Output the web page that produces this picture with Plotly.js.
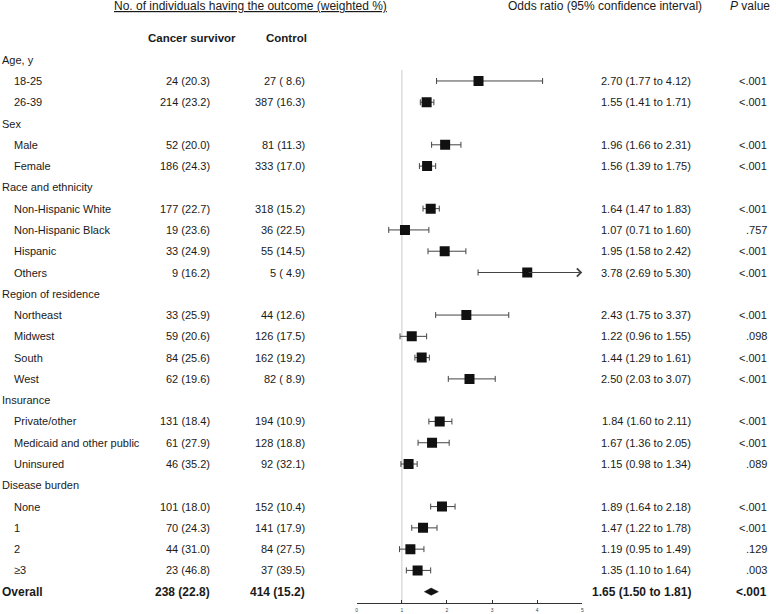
<!DOCTYPE html>
<html>
<head>
<meta charset="utf-8">
<script src="https://cdn.plot.ly/plotly-3.0.1.min.js"></script>
<style>
  html, body { margin: 0; padding: 0; background: #fff; }
  #chart { width: 776px; height: 614px; }
</style>
</head>
<body>
<div id="chart"></div>
<script>
// rows, top to bottom; null = group heading row
var labels = ['Age, y', '18-25', '26-39', 'Sex', 'Male', 'Female',
	'Race and ethnicity', 'Non-Hispanic White', 'Non-Hispanic Black', 'Hispanic', 'Others',
	'Region of residence', 'Northeast', 'Midwest', 'South', 'West',
	'Insurance', 'Private/other', 'Medicaid and other public', 'Uninsured',
	'Disease burden', 'None', '1', '2', '\u22653', 'Overall'];

var survivor = [null, '24 (20.3)', '214 (23.2)', null, '52 (20.0)', '186 (24.3)',
	null, '177 (22.7)', '19 (23.6)', '33 (24.9)', '9 (16.2)',
	null, '33 (25.9)', '59 (20.6)', '84 (25.6)', '62 (19.6)',
	null, '131 (18.4)', '61 (27.9)', '46 (35.2)',
	null, '101 (18.0)', '70 (24.3)', '44 (31.0)', '23 (46.8)', '238 (22.8)'];

var control = [null, '27 ( 8.6)', '387 (16.3)', null, '81 (11.3)', '333 (17.0)',
	null, '318 (15.2)', '36 (22.5)', '55 (14.5)', '5 ( 4.9)',
	null, '44 (12.6)', '126 (17.5)', '162 (19.2)', '82 ( 8.9)',
	null, '194 (10.9)', '128 (18.8)', '92 (32.1)',
	null, '152 (10.4)', '141 (17.9)', '84 (27.5)', '37 (39.5)', '414 (15.2)'];

var orVal = [null, 2.70, 1.55, null, 1.96, 1.56,
	null, 1.64, 1.07, 1.95, 3.78,
	null, 2.43, 1.22, 1.44, 2.50,
	null, 1.84, 1.67, 1.15,
	null, 1.89, 1.47, 1.19, 1.35, 1.65];

var ciLo = [null, 1.77, 1.41, null, 1.66, 1.39,
	null, 1.47, 0.71, 1.58, 2.69,
	null, 1.75, 0.96, 1.29, 2.03,
	null, 1.60, 1.36, 0.98,
	null, 1.64, 1.22, 0.95, 1.10, 1.50];

var ciHi = [null, 4.12, 1.71, null, 2.31, 1.75,
	null, 1.83, 1.60, 2.42, 5.30,
	null, 3.37, 1.55, 1.61, 3.07,
	null, 2.11, 2.05, 1.34,
	null, 2.18, 1.78, 1.49, 1.64, 1.81];

var pVal = [null, '<.001', '<.001', null, '<.001', '<.001',
	null, '<.001', '.757', '<.001', '<.001',
	null, '<.001', '.098', '<.001', '<.001',
	null, '<.001', '<.001', '.089',
	null, '<.001', '<.001', '.129', '.003', '<.001'];

var xTicks = [0, 1, 2, 3, 4, 5];

var W = 776, H = 614;
var xMax = xTicks[xTicks.length - 1];
var FONT = 'Liberation Sans, Arial, sans-serif';
var INK = '#1a1a1a';
var overallIdx = labels.length - 1;

function esc(s) { return s.replace(/</g, '&lt;'); }
function px(v) { return v / W; }

// squares with whiskers
var ptX = [], ptY = [], errP = [], errM = [];
var annotations = [];
for (var i = 0; i < labels.length; i++) {
	if (orVal[i] === null || i === overallIdx) continue;
	ptX.push(orVal[i]);
	ptY.push(i);
	errM.push(orVal[i] - ciLo[i]);
	if (ciHi[i] > xMax) {
		// CI runs off the axis: arrow up to the axis end
		errP.push(0);
		annotations.push({x: xMax, y: i, ax: orVal[i], ay: i, xref: 'x', yref: 'y', axref: 'x', ayref: 'y',
			text: '', showarrow: true, arrowhead: 4, arrowsize: 1.6, arrowwidth: 1, arrowcolor: '#444', standoff: 0});
	} else {
		errP.push(ciHi[i] - orVal[i]);
	}
}

var squares = {
	x: ptX, y: ptY, type: 'scatter', mode: 'markers',
	marker: {symbol: 'square', size: 10, color: '#111'},
	error_x: {type: 'data', symmetric: false, array: errP, arrayminus: errM,
		color: '#444', thickness: 1, width: 3},
	hoverinfo: 'skip', showlegend: false
};

// overall diamond
var dh = 0.17;
var diamond = {
	x: [ciLo[overallIdx], orVal[overallIdx], ciHi[overallIdx], orVal[overallIdx], ciLo[overallIdx]],
	y: [overallIdx, overallIdx - dh, overallIdx, overallIdx + dh, overallIdx],
	type: 'scatter', mode: 'lines', fill: 'toself', fillcolor: '#111',
	line: {width: 0.5, color: '#111'}, hoverinfo: 'skip', showlegend: false
};

function txt(x, y, s, anchor, size, bold) {
	annotations.push({x: px(x), y: y, xref: 'paper', yref: 'y', text: bold ? '<b>' + s + '</b>' : s,
		showarrow: false, xanchor: anchor, yanchor: 'middle',
		font: {family: FONT, size: size, color: INK}});
}

// header
txt(250, -2.5, '<u>No. of individuals having the outcome (weighted %)</u>', 'center', 12, false);
txt(704, -2.5, 'Odds ratio (95% confidence interval)', 'right', 12, false);
txt(772, -2.5, '<i>P</i> value', 'right', 12, false);
txt(191.5, -1, 'Cancer survivor', 'center', 11.5, true);
txt(286.5, -1, 'Control', 'center', 11.5, true);

// table rows
for (var i = 0; i < labels.length; i++) {
	var isOverall = i === overallIdx;
	var fs = isOverall ? 12 : 11;
	if (orVal[i] === null) {
		txt(0, i, labels[i], 'left', 11, false);
		continue;
	}
	txt(isOverall ? 0 : 12, i, labels[i], 'left', fs, isOverall);
	txt(212, i, survivor[i], 'right', fs, isOverall);
	txt(307, i, control[i], 'right', fs, isOverall);
	txt(693, i, orVal[i].toFixed(2) + ' (' + ciLo[i].toFixed(2) + ' to ' + ciHi[i].toFixed(2) + ')', 'right', fs, isOverall);
	txt(769, i, esc(pVal[i]), 'right', fs, isOverall);
}

var layout = {
	width: W, height: H,
	margin: {l: 0, r: 0, t: 0, b: 0},
	paper_bgcolor: '#fff', plot_bgcolor: 'rgba(0,0,0,0)',
	showlegend: false,
	xaxis: {
		domain: [356.7 / W, 582.3 / W], range: [0, xMax],
		tickvals: xTicks, ticks: 'inside', ticklen: 3, tickcolor: '#333', tickwidth: 1,
		showline: true, linecolor: '#333', linewidth: 1,
		showgrid: false, zeroline: false, automargin: false,
		tickfont: {family: FONT, size: 5, color: '#444'}, ticklabelstandoff: 2,
		fixedrange: true
	},
	yaxis: {
		domain: [10.7 / H, 1], range: [25.545, -2.805],
		visible: false, showgrid: false, zeroline: false, fixedrange: true
	},
	shapes: [{type: 'line', xref: 'x', yref: 'y', x0: 1, x1: 1, y0: 0.48, y1: 25.545,
		line: {color: '#dcdcdc', width: 1.5}, layer: 'below'}],
	annotations: annotations
};

Plotly.newPlot('chart', [squares, diamond], layout, {displayModeBar: false, staticPlot: true});
</script>
</body>
</html>
